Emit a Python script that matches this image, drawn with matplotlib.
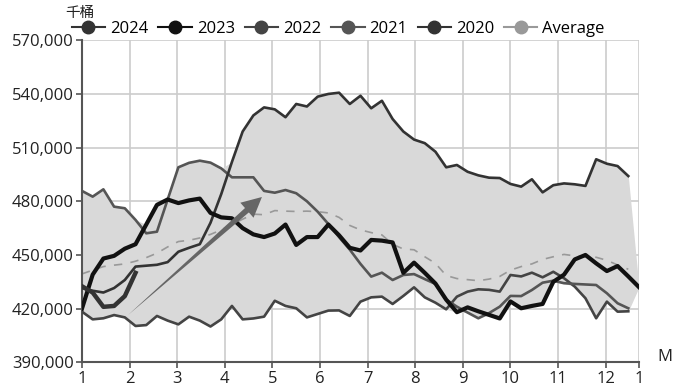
import numpy as np
import pandas as pd
import matplotlib
matplotlib.use('Agg')
import matplotlib.pyplot as plt
from matplotlib.ticker import FuncFormatter

plt.rcParams['font.family'] = ['Open Sans', 'Noto Sans CJK SC', 'DejaVu Sans']

# weekly stocks, thousand barrels (week 0 = first week of Jan)
stock_2024 = [432.5, 429, 421, 421.5, 427, 440]
stock_2023 = [420, 439, 448, 449.5, 453.5, 456, 467, 478, 481, 479,
              480.5, 481.5, 473.5, 471, 470.5, 465, 461.5, 460, 462, 467,
              455.6, 460, 460, 467, 461, 454, 452.5, 458.4, 458, 457,
              440, 445.7, 440, 434, 425, 418, 420.7, 418.5, 416.5, 414.5,
              424, 420.2, 421.5, 422.6, 435, 439, 447.5, 450, 445.3, 441,
              443.8, 438, 432]
stock_2022 = [418.3, 414, 414.6, 416.4, 415.1, 410.3, 410.8, 415.9, 413.3, 411.2,
              415.5, 413.3, 410, 414, 421.5, 414, 414.5, 415.5, 424.4, 421.5,
              420.2, 415.1, 417, 418.9, 419, 415.9, 423.9, 426.3, 426.7, 422.6,
              427.1, 431.9, 426.3, 423.3, 419.6, 426.7, 429.5, 430.8, 430.5, 429.5,
              438.8, 438, 440.1, 437.5, 440.6, 437, 432.3, 425.8, 414.6, 423.9,
              418.3, 418.5]
stock_2021 = [485.8, 482.6, 486.7, 477, 476.1, 469.6, 462.1, 463, 481, 499,
              501.5, 502.7, 501.6, 498.4, 493.4, 493.4, 493.4, 485.8, 484.8, 486.3,
              484.5, 480, 474.2, 467.3, 460, 453, 445, 437.9, 440.1, 436,
              438.8, 439.3, 436.5, 433.8, 425, 421.1, 417.8, 414.6, 417.5, 421.1,
              427.1, 427, 430.4, 434.5, 435.6, 434.2, 433.8, 433.5, 433.2, 428.6,
              423, 420.2]
stock_2020 = [431.5, 430, 429, 431.5, 436, 443.5, 444, 444.5, 446, 451.8,
              454, 456, 468, 484, 502, 519, 528, 532.5, 531.4, 527,
              534.4, 533, 538.5, 540, 540.7, 534.4, 539, 532, 536.2, 526,
              519, 514.5, 512.5, 507.7, 499, 500.3, 496.5, 494.5, 493.2, 493,
              489.7, 488.2, 492.3, 485, 489, 490, 489.5, 488.6, 503.5, 501,
              499.7, 494.1]
stock_avg = [439.4, 441.5, 443.5, 444.3, 445, 446.5, 448.5, 451, 454.5, 457.5,
             458.2, 459.5, 461.5, 464, 467, 470, 472.8, 472.5, 474.8, 474.5,
             474.3, 474.5, 474.2, 473.5, 471, 466.5, 464, 462.5, 461.2, 456,
             453.3, 452.9, 449, 445.3, 438.5, 436.8, 436.2, 435.6, 436.5, 438,
             441.5, 443.5, 445, 447.5, 449, 450.3, 449.5, 449, 448.7, 447,
             444.4, 442]

month_labels = ['1', '2', '3', '4', '5', '6', '7', '8', '9', '10', '11', '12', '1']
month_weeks = [0, 4.44, 8.89, 13.33, 17.78, 22.22, 26.67, 31.11, 35.56, 40.0, 44.44, 48.89, 52]

arrow_tail = (4.3, 416400)
arrow_head = (16.8, 482400)

def series(vals):
    return pd.Series(np.array(vals) * 1000, index=np.arange(len(vals)))

years = {
    '2024': (series(stock_2024), '#333333', 3.2),
    '2023': (series(stock_2023), '#111111', 3.0),
    '2022': (series(stock_2022), '#444444', 1.9),
    '2021': (series(stock_2021), '#555555', 1.9),
    '2020': (series(stock_2020), '#333333', 1.9),
}
avg = series(stock_avg)

hist = pd.DataFrame({k: years[k][0] for k in ['2020', '2021', '2022', '2023']})
lo = hist.min(axis=1)
hi = hist.max(axis=1)

fig = plt.figure(figsize=(6.83, 3.92), dpi=100)
ax = fig.add_axes([0.120, 0.0758, 0.8156, 0.8214])

ax.fill_between(hist.index, lo, hi, color='#d9d9d9', lw=0, zorder=1)
ax.plot(avg.index, avg.values, color='#999999', lw=1.2, ls=(0, (5, 5)), zorder=2)
for name in ['2022', '2021', '2020', '2023', '2024']:
    s, c, lw = years[name]
    ax.plot(s.index, s.values, color=c, lw=lw, zorder=3)

# trend arrow: tapered body + head
ax.annotate('', xy=arrow_tail, xytext=arrow_head,
            arrowprops=dict(arrowstyle='wedge,tail_width=0.45,shrink_factor=0.5',
                            fc='#666666', ec='none', shrinkA=6, shrinkB=0), zorder=5)
ax.annotate('', xy=arrow_head, xytext=arrow_tail,
            arrowprops=dict(arrowstyle='-|>,head_length=0.9,head_width=0.45',
                            fc='#666666', ec='#666666', lw=0, mutation_scale=16,
                            shrinkA=0, shrinkB=0), zorder=5)

ax.set_xlim(0, 52)
ax.set_ylim(390000, 570000)
ax.set_xticks(month_weeks)
ax.set_xticklabels(month_labels)
ax.set_yticks(np.arange(390000, 570001, 30000))
ax.yaxis.set_major_formatter(FuncFormatter(lambda v, p: f'{int(v):,}'))
ax.grid(True, color='#cccccc', lw=1.2)
ax.set_axisbelow(True)
for sp in ['top', 'right']:
    ax.spines[sp].set_visible(False)
for sp in ['left', 'bottom']:
    ax.spines[sp].set_color('#555555')
    ax.spines[sp].set_linewidth(1.5)
ax.tick_params(colors='#555555', labelcolor='#222222', labelsize=12, length=4, width=1.2, pad=2)

fig.text(0.095, 0.966, '千桶', fontsize=10.5, color='#222222', ha='left', va='center')
fig.text(0.963, 0.09, 'M', fontsize=12, color='#222222', ha='left', va='center')

handles = []
labels = []
for name in ['2024', '2023', '2022', '2021', '2020']:
    s, c, lw = years[name]
    h, = ax.plot([], [], color=c, lw=1.5, marker='o', ms=9)
    handles.append(h)
    labels.append(name)
h, = ax.plot([], [], color='#999999', lw=1.5, marker='o', ms=9)
handles.append(h)
labels.append('Average')
fig.legend(handles, labels, loc='center left', bbox_to_anchor=(0.105, 0.926), ncol=6,
           frameon=False, fontsize=12, handlelength=2.0, handletextpad=0.3,
           columnspacing=0.6, borderaxespad=0, borderpad=0)

fig.savefig('out.png', dpi=100)
